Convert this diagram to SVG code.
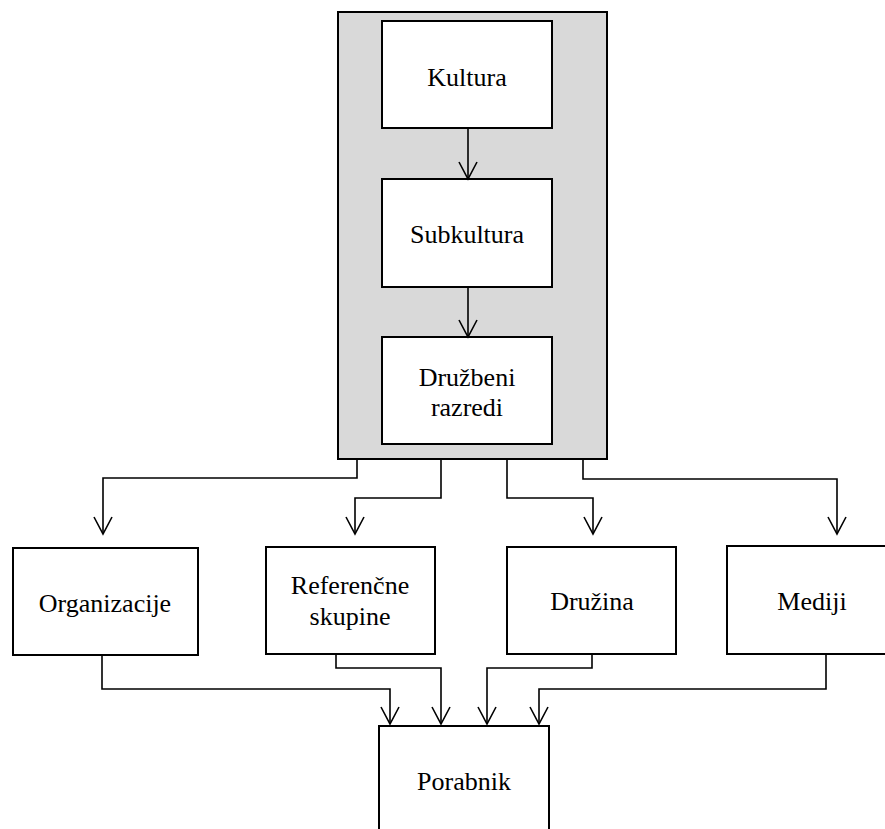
<svg xmlns="http://www.w3.org/2000/svg" width="885" height="829" viewBox="0 0 885 829">
  <style>
    .box { fill: #ffffff; stroke: #000000; stroke-width: 2; }
    .group { fill: #d9d9d9; stroke: #000000; stroke-width: 2; }
    .lbl { font-family: "Liberation Serif", "Times New Roman", serif; font-size: 26px; fill: #000000; text-anchor: middle; }
    .link { fill: none; stroke: #000000; stroke-width: 1.6; marker-end: url(#vee); }
  </style>
  <defs>
    <marker id="vee" markerUnits="userSpaceOnUse" markerWidth="24" markerHeight="24" viewBox="-20 -12 24 24" refX="0" refY="0" orient="auto" overflow="visible">
      <path d="M-17,-9 L0,0 L-17,9" fill="none" stroke="#000000" stroke-width="1.6"/>
    </marker>
  </defs>
  <rect width="885" height="829" fill="#ffffff"/>

  <!-- shaded container holding the three cultural levels -->
  <g id="influences">
    <rect class="group" x="338" y="12" width="269" height="447"/>
  </g>

  <g id="kultura">
    <rect class="box" x="382" y="21" width="170" height="107"/>
    <text class="lbl" x="467" y="86">Kultura</text>
  </g>
  <g id="subkultura">
    <rect class="box" x="382" y="179" width="170" height="108"/>
    <text class="lbl" x="467" y="243">Subkultura</text>
  </g>
  <g id="druzbeni-razredi">
    <rect class="box" x="382" y="337" width="170" height="107"/>
    <text class="lbl" x="467" y="386">Družbeni</text>
    <text class="lbl" x="467" y="416">razredi</text>
  </g>

  <g id="organizacije">
    <rect class="box" x="13" y="548" width="185" height="107"/>
    <text class="lbl" x="105" y="612">Organizacije</text>
  </g>
  <g id="referencne-skupine">
    <rect class="box" x="266" y="547" width="169" height="107"/>
    <text class="lbl" x="350" y="594">Referenčne</text>
    <text class="lbl" x="350" y="625">skupine</text>
  </g>
  <g id="druzina">
    <rect class="box" x="507" y="547" width="169" height="107"/>
    <text class="lbl" x="592" y="610">Družina</text>
  </g>
  <g id="mediji">
    <rect class="box" x="727" y="546" width="172" height="108"/>
    <text class="lbl" x="812" y="610">Mediji</text>
  </g>

  <g id="porabnik">
    <rect class="box" x="379" y="726" width="170" height="110"/>
    <text class="lbl" x="464" y="790">Porabnik</text>
  </g>

  <g id="connectors">
    <path class="link" d="M468,128 V179"/>
    <path class="link" d="M468,287 V337"/>
    <path class="link" d="M357,459 V478 H103 V534"/>
    <path class="link" d="M441,459 V498 H355 V534"/>
    <path class="link" d="M507,459 V498 H593 V534"/>
    <path class="link" d="M583,459 V479 H837 V534"/>
    <path class="link" d="M102,655 V689 H390 V724"/>
    <path class="link" d="M336,654 V668 H441 V724"/>
    <path class="link" d="M592,654 V668 H487 V724"/>
    <path class="link" d="M826,654 V689 H539 V724"/>
  </g>
</svg>
